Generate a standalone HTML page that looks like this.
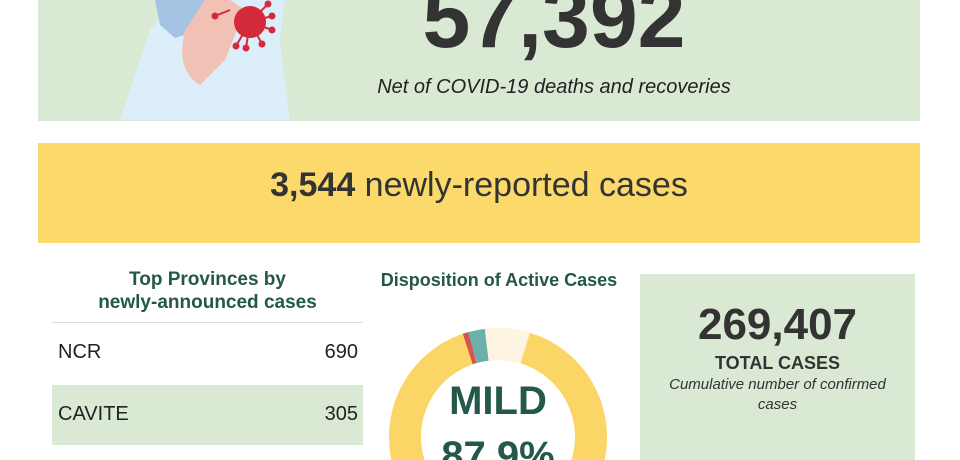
<!DOCTYPE html>
<html><head><meta charset="utf-8"><style>
html,body{margin:0;width:960px;height:460px;overflow:hidden;background:#fff}
#w{position:relative;width:960px;height:460px;overflow:hidden;font-family:"Liberation Sans",sans-serif}
#w div{position:absolute}
.c{text-align:center;white-space:nowrap}
</style></head><body><div id="w">
<div style="left:38px;top:0;width:882px;height:121px;background:#d9e9d3"></div>
<svg style="position:absolute;left:0;top:0" width="960" height="460">
  <path d="M120,120 L150,30 L175,0 L285,0 L280,40 L290,120 Z" fill="#dbeef9"/>
  <path d="M155,0 L205,0 L200,30 L175,38 L160,25 Z" fill="#a5c4e3"/>
  <path d="M185,30 Q175,70 200,85 L225,60 L245,10 L230,0 L205,0 Z" fill="#f2c1b6"/>
  <circle cx="250" cy="22" r="16" fill="#d42a3a"/>
  <g stroke="#d42a3a" stroke-width="2" fill="#d42a3a">
    <line x1="250" y1="22" x2="272" y2="16"/><circle cx="272" cy="16" r="2.5"/>
    <line x1="250" y1="22" x2="272" y2="30"/><circle cx="272" cy="30" r="2.5"/>
    <line x1="250" y1="22" x2="262" y2="44"/><circle cx="262" cy="44" r="2.5"/>
    <line x1="250" y1="22" x2="246" y2="48"/><circle cx="246" cy="48" r="2.5"/>
    <line x1="250" y1="22" x2="236" y2="46"/><circle cx="236" cy="46" r="2.5"/>
    <line x1="250" y1="22" x2="268" y2="4"/><circle cx="268" cy="4" r="2.5"/>
    <line x1="230" y1="10" x2="215" y2="16"/><circle cx="215" cy="16" r="2.5"/>
  </g>
</svg>
<div class="c" style="left:338px;width:432px;top:-32px;font-size:86px;font-weight:bold;color:#333;line-height:100px">57,392</div>
<div class="c" style="left:338px;width:432px;top:76px;font-size:20px;font-style:italic;color:#222">Net of COVID-19 deaths and recoveries</div>

<div style="left:38px;top:143px;width:882px;height:100px;background:#fbd96b"></div>
<div class="c" style="left:38px;width:882px;top:165px;font-size:34px;color:#333;line-height:40px"><b>3,544</b> newly-reported cases</div>

<div class="c" style="left:52px;width:311px;top:268px;font-size:19px;font-weight:bold;color:#23584a;line-height:23px">Top Provinces by<br>newly-announced cases</div>
<div style="left:52px;top:322px;width:311px;height:1px;background:#ddd"></div>
<div style="left:58px;top:341px;font-size:20px;color:#222">NCR</div>
<div style="left:300px;width:58px;top:341px;font-size:20px;color:#222;text-align:right">690</div>
<div style="left:52px;top:385px;width:311px;height:60px;background:#d9e9d3"></div>
<div style="left:58px;top:403px;font-size:20px;color:#222">CAVITE</div>
<div style="left:300px;width:58px;top:403px;font-size:20px;color:#222;text-align:right">305</div>

<div class="c" style="left:370px;width:258px;top:270px;font-size:18px;font-weight:bold;color:#23584a">Disposition of Active Cases</div>
<svg style="position:absolute;left:0;top:0" width="960" height="460">
  <g transform="translate(498,437)" fill="none" stroke-width="32">
    <circle r="93" stroke="#fbd667"/>
    <path d="M -30.3,-88.0 A 93 93 0 0 1 -25.6,-89.4" stroke="#d9534f"/>
    <path d="M -25.6,-89.4 A 93 93 0 0 1 -11.3,-92.3" stroke="#6bb0ad"/>
    <path d="M -11.3,-92.3 A 93 93 0 0 1 27.2,-88.9" stroke="#fdf4e1"/>
  </g>
  <path d="M752,460 Q748,430 765,420 Q770,415 780,418 L790,430 L795,460 Z" fill="#2f2f2f"/>
  <path d="M775,428 Q790,420 795,432 L792,448 L778,448 Z" fill="#f2c6ae"/>
  <rect x="775" y="452" width="40" height="8" fill="#3fa27a"/>
</svg>
<div class="c" style="left:418px;width:160px;top:378px;font-size:40px;font-weight:bold;color:#23584a;line-height:46px">MILD</div>
<div class="c" style="left:418px;width:160px;top:433px;font-size:40px;font-weight:bold;color:#23584a;line-height:46px">87.9%</div>

<div style="left:640px;top:274px;width:275px;height:186px;background:#d9e9d3"></div>
<div class="c" style="left:640px;width:275px;top:300px;font-size:44px;font-weight:bold;color:#333;line-height:50px">269,407</div>
<div class="c" style="left:640px;width:275px;top:353px;font-size:18px;font-weight:bold;color:#333">TOTAL CASES</div>
<div class="c" style="left:640px;width:275px;top:375px;font-size:15px;font-style:italic;color:#333;line-height:20px">Cumulative number of confirmed<br>cases</div>
</div></body></html>
